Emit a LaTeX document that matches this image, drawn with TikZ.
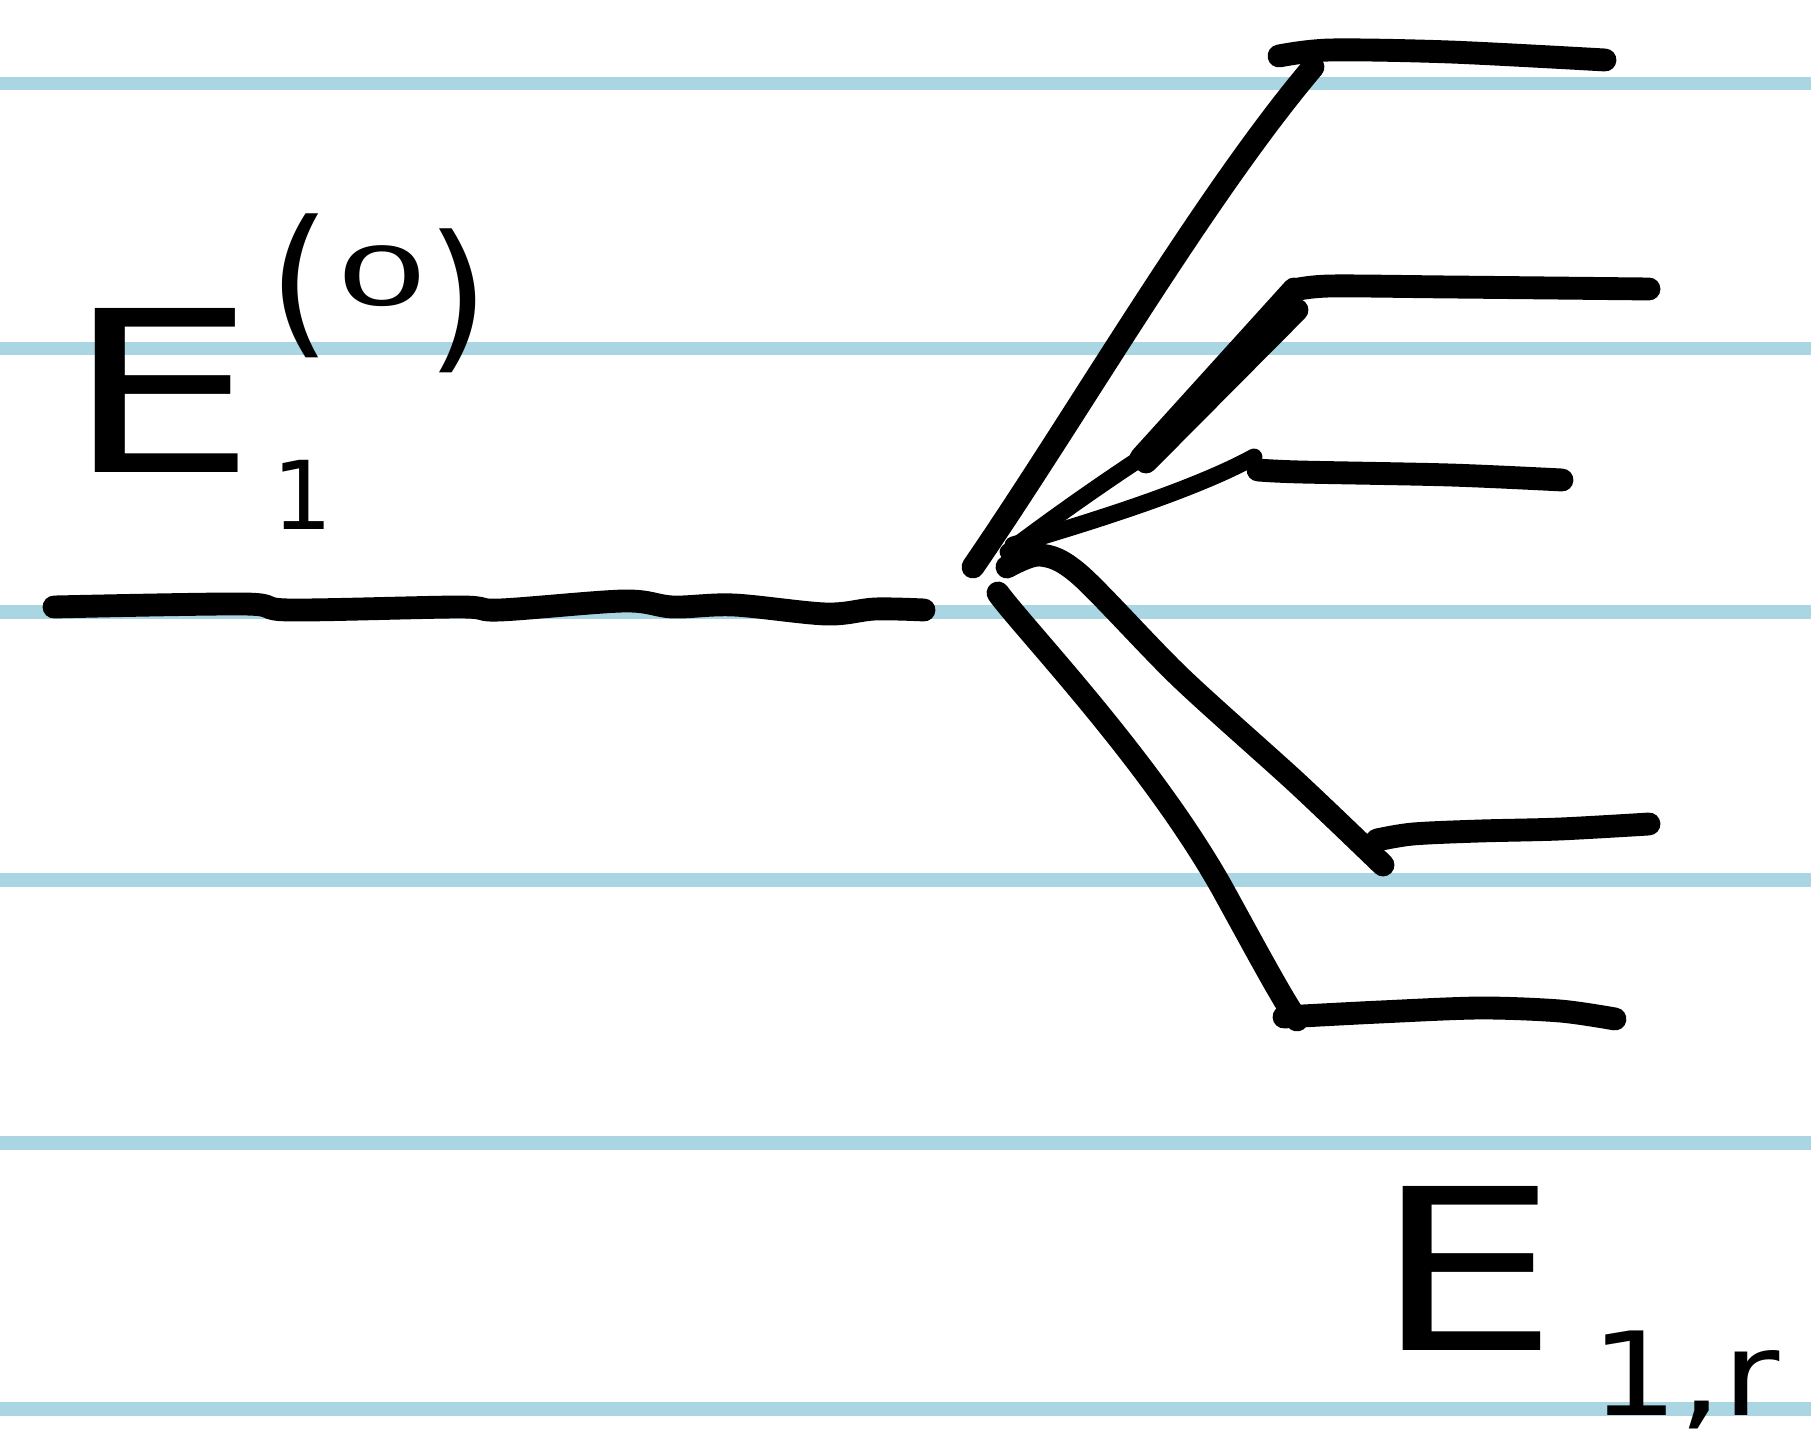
\documentclass[tikz,border=0pt]{standalone}
\usepackage{graphicx}
\usepackage{fontspec}
\setmainfont{DejaVu Sans}
\definecolor{ruleblue}{RGB}{170,214,228}
\tikzset{
  paperline/.style={draw=ruleblue, line width=0.13cm},
  ink/.style={draw=black, line width=6.5pt, line cap=round, line join=round},
  thinink/.style={draw=black, line width=4.8pt, line cap=round, line join=round},
  txt/.style={inner sep=0pt, outer sep=0pt, text=black}
}
\begin{document}
\begin{tikzpicture}[x=0.01cm, y=-0.01cm]
\useasboundingbox (0,0) rectangle (1811,1446);
\fill[white] (0,0) rectangle (1811,1446);
% ruled paper
\foreach \yy in {84,349,612,880,1143,1409}
  \draw[paperline] (0,\yy) -- (1811,\yy);

% named points
\coordinate (L0) at (54,607);
\coordinate (L1) at (924,610);
\coordinate (T0) at (973,567);
\coordinate (T1) at (1313,67);
\coordinate (O) at (1008,552);
\coordinate (M2) at (1141,458);
\coordinate (B0) at (998,593);
\coordinate (B1) at (1222,888);
\coordinate (B2) at (1297,1020);

% unperturbed level
\draw[ink] plot[smooth, tension=0.55] coordinates {(L0) (244,604) (290,610) (459,607) (500,610) (624,601) (673,607) (734,605) (826,614) (875,609) (L1)};

% fan to level 1
\draw[ink] (T0) .. controls (1076,417) and (1203,197) .. (T1);
\draw[ink] plot[smooth, tension=0.5] coordinates {(1279,56) (1330,50) (1450,52) (1605,60)};

% fan to level 2
\draw[thinink] (O) .. controls (1050,520) and (1100,485) .. (M2);
\draw[ink] (M2) -- (1294,289);
\draw[ink] (1146,462) -- (1297,310);
\draw[ink] plot[smooth, tension=0.5] coordinates {(1294,290) (1330,286) (1450,287) (1649,289)};

% fan to level 3
\draw[thinink] (1013,545) .. controls (1080,525) and (1190,492) .. (1254,457);
\draw[ink] plot[smooth, tension=0.5] coordinates {(1258,470) (1300,472) (1450,475) (1562,480)};

% fan to level 4
\draw[ink] plot[smooth, tension=0.5] coordinates {(1007,567) (1040,555) (1080,575) (1180,677) (1297,783) (1383,865)};
\draw[ink] plot[smooth, tension=0.5] coordinates {(1377,840) (1413,834) (1480,831) (1560,829) (1649,824)};

% fan to level 5
\draw[ink] (B0) .. controls (1025,630) and (1150,760) .. (B1) .. controls (1254,946) and (1280,995) .. (B2);
\draw[ink] plot[smooth, tension=0.5] coordinates {(1284,1017) (1380,1012) (1480,1008) (1560,1011) (1615,1019)};

% labels
\node[txt, font=\fontsize{64}{64}\selectfont, xscale=1.35] (E0) at (161,390) {E};
\node[txt, font=\fontsize{46}{46}\selectfont] (E0lp) at (300,286) {(};
\node[txt, font=\fontsize{27}{27}\selectfont, xscale=1.55, yscale=0.85] (E0zero) at (382,276) {0};
\node[txt, font=\fontsize{46}{46}\selectfont] (E0rp) at (458,301) {)};
\node[txt, font=\fontsize{27}{27}\selectfont] (E0sub) at (303,495) {1};

\node[txt, font=\fontsize{64}{64}\selectfont, xscale=1.3] (E1) at (1467,1268) {E};
\node[txt, font=\fontsize{33}{33}\selectfont, anchor=base west, xscale=1.2] (E1sub) at (1590,1415) {1,r};
\end{tikzpicture}
\end{document}
